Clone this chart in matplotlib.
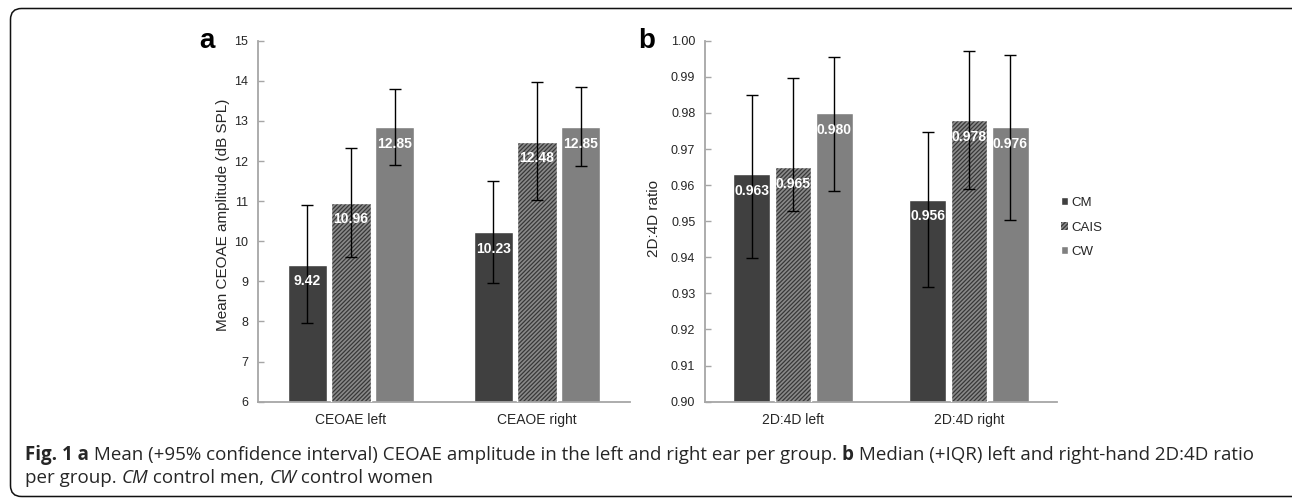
import matplotlib
matplotlib.use('Agg')
import matplotlib.pyplot as plt
import numpy as np
from matplotlib.patches import FancyBboxPatch
from matplotlib.transforms import IdentityTransform
from matplotlib import font_manager as fm

# ---------------- data ----------------
groups = ['CM', 'CAIS', 'CW']

cats_a = ['CEOAE left', 'CEAOE right']
cm_a = [9.42, 10.23]
cais_a = [10.96, 12.48]
cw_a = [12.85, 12.85]
cm_a_lo = [7.95, 8.97]
cm_a_hi = [10.90, 11.50]
cais_a_lo = [9.60, 11.02]
cais_a_hi = [12.32, 13.97]
cw_a_lo = [11.89, 11.87]
cw_a_hi = [13.79, 13.85]
yticks_a = [6, 7, 8, 9, 10, 11, 12, 13, 14, 15]

cats_b = ['2D:4D left', '2D:4D right']
cm_b = [0.963, 0.956]
cais_b = [0.965, 0.978]
cw_b = [0.980, 0.976]
cm_b_lo = [0.9397, 0.9317]
cm_b_hi = [0.9849, 0.9747]
cais_b_lo = [0.9528, 0.9590]
cais_b_hi = [0.9897, 0.9972]
cw_b_lo = [0.9584, 0.9503]
cw_b_hi = [0.9954, 0.9961]
yticks_b = [0.90, 0.91, 0.92, 0.93, 0.94, 0.95, 0.96, 0.97, 0.98, 0.99, 1.00]

caption_line1 = [("Fig. 1 a", 'bold', 'normal'),
                 (" Mean (+95% confidence interval) CEOAE amplitude in the left and right ear per group. ", 'normal', 'normal'),
                 ("b", 'bold', 'normal'),
                 (" Median (+IQR) left and right-hand 2D:4D ratio", 'normal', 'normal')]
caption_line2 = [("per group. ", 'normal', 'normal'),
                 ("CM", 'normal', 'italic'),
                 (" control men, ", 'normal', 'normal'),
                 ("CW", 'normal', 'italic'),
                 (" control women", 'normal', 'normal')]

# ---------------- style ----------------
W, H = 1292, 500
plt.rcParams['font.family'] = ['Liberation Sans', 'DejaVu Sans']
C_CM = '#404040'
C_CW = '#808080'
C_CAIS_FACE = '#8a8a8a'
C_CAIS_HATCH = '#383838'
SPINE = '#a6a6a6'
TXT = '#262626'
plt.rcParams['hatch.linewidth'] = 0.9

fig = plt.figure(figsize=(W / 100, H / 100), dpi=100)


def px_axes(x0, x1, ytop, ybot):
    return fig.add_axes([x0 / W, 1 - ybot / H, (x1 - x0) / W, (ybot - ytop) / H])


def panel(ax, cats, series, los, his, yticks, fmt, ylabel, labelx, labely):
    x = np.arange(len(cats))
    width = 0.21
    step = 0.235
    offsets = [-step, 0, step]
    handles = []
    for i, (vals, lo, hi) in enumerate(zip(series, los, his)):
        xs = x + offsets[i]
        if i == 1:
            b = ax.bar(xs, vals, width, color=C_CAIS_FACE, edgecolor=C_CAIS_HATCH,
                       hatch='////////', linewidth=0, zorder=2, label=groups[i])
            ax.bar(xs, vals, width, fill=False, edgecolor='white', linewidth=1.0, zorder=3)
        else:
            b = ax.bar(xs, vals, width, color=[C_CM, None, C_CW][i], edgecolor='white',
                       linewidth=1.0, zorder=2, label=groups[i])
        handles.append(b)
        vals = np.array(vals)
        yerr = np.vstack([vals - np.array(lo), np.array(hi) - vals])
        ax.errorbar(xs, vals, yerr=yerr, fmt='none', ecolor='black', elinewidth=1.0,
                    capsize=4.5, capthick=1.0, zorder=4)
        for xv, v in zip(xs, vals):
            ax.annotate(fmt % v, (xv, v), xytext=(0, -12), textcoords='offset points',
                        ha='center', va='center', color='white', fontweight='bold',
                        fontsize=10, zorder=5)
    ax.set_xlim(-0.5, len(cats) - 0.5)
    ax.set_ylim(yticks[0], yticks[-1])
    ax.set_yticks(yticks)
    ax.set_yticklabels([('%g' % t) if fmt == '%.2f' else ('%.2f' % t) for t in yticks])
    ax.set_xticks(x)
    ax.set_xticklabels(cats)
    for s in ['top', 'right']:
        ax.spines[s].set_visible(False)
    for s in ['left', 'bottom']:
        ax.spines[s].set_color(SPINE)
        ax.spines[s].set_linewidth(1.3)
    ax.tick_params(axis='y', direction='in', length=4, width=1, color=SPINE,
                   labelsize=9, pad=7, labelcolor=TXT)
    ax.tick_params(axis='x', length=0, labelsize=10, pad=8, labelcolor=TXT)
    ax.set_ylabel(ylabel, fontsize=11, color=TXT)
    ax.yaxis.set_label_coords(labelx, labely)
    return handles


ax_a = px_axes(258, 630, 40.7, 401.7)
panel(ax_a, cats_a, [cm_a, cais_a, cw_a], [cm_a_lo, cais_a_lo, cw_a_lo],
      [cm_a_hi, cais_a_hi, cw_a_hi], yticks_a, '%.2f',
      'Mean CEOAE amplitude (dB SPL)', -0.075, 0.518)

ax_b = px_axes(705, 1057, 40.7, 401.7)
handles = panel(ax_b, cats_b, [cm_b, cais_b, cw_b], [cm_b_lo, cais_b_lo, cw_b_lo],
                [cm_b_hi, cais_b_hi, cw_b_hi], yticks_b, '%.3f', '2D:4D ratio', -0.125, 0.507)

leg = fig.legend(handles, groups, loc='upper left', bbox_to_anchor=(1061 / W, 1 - 197 / H),
                 frameon=False, fontsize=9.5, handlelength=0.55, handleheight=0.55,
                 handletextpad=0.25, labelspacing=0.95, borderpad=0, borderaxespad=0)
for t in leg.get_texts():
    t.set_color(TXT)

# panel letters
fig.text(199 / W, 1 - 48 / H, 'a', fontsize=20, fontweight='bold', ha='left', va='baseline')
fig.text(638 / W, 1 - 48 / H, 'b', fontsize=20, fontweight='bold', ha='left', va='baseline')

# frame
frame = FancyBboxPatch((10.5, 3.5), 1400, 488, boxstyle='round,pad=0,rounding_size=11',
                       transform=IdentityTransform(), fill=False, edgecolor='#111111',
                       linewidth=1.1, clip_on=False)
fig.patches.append(frame)

# caption


def has_font(name):
    try:
        fm.findfont(fm.FontProperties(family=name), fallback_to_default=False)
        return True
    except Exception:
        return False


cap_family = 'Liberation Sans Narrow' if has_font('Liberation Sans Narrow') else 'Open Sans'
renderer = fig.canvas.get_renderer()


def run_width(s, size, weight, style):
    fp = fm.FontProperties(family=[cap_family, 'DejaVu Sans'], size=size, weight=weight, style=style)
    w1 = renderer.get_text_width_height_descent('|' + s + '|', fp, False)[0]
    w0 = renderer.get_text_width_height_descent('||', fp, False)[0]
    return w1 - w0


def line_width(runs, size):
    return sum(run_width(s, size, w, st) for s, w, st in runs)


base = 13.5
target = 1237.0 * 1.05
lw = line_width(caption_line1, base)
cap_size = base * min(1.0, target / lw)


def draw_runs(x, y, runs, size):
    for s, w, st in runs:
        fig.text(x, y, s, transform=IdentityTransform(), fontsize=size, fontweight=w,
                 fontstyle=st, family=[cap_family, 'DejaVu Sans'], ha='left',
                 va='baseline', color=TXT)
        x += run_width(s, size, w, st)


draw_runs(25, H - 460, caption_line1, cap_size)
draw_runs(25, H - 483, caption_line2, cap_size)

fig.savefig('out.png', dpi=100)
